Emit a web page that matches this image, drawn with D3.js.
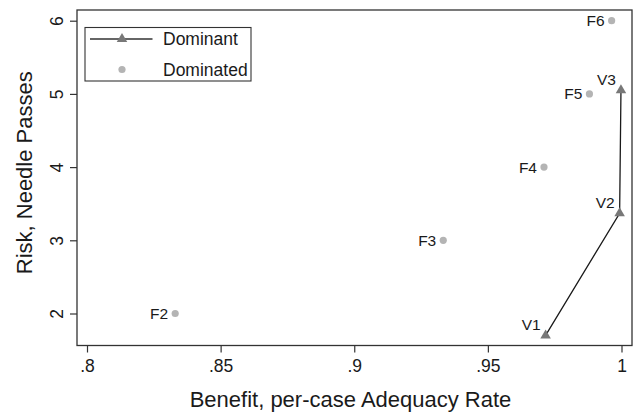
<!DOCTYPE html>
<html>
<head>
<meta charset="utf-8">
<script src="https://cdn.jsdelivr.net/npm/d3@7"></script>
<style>
  body { margin: 0; background: #fff; }
  text { font-family: "Liberation Sans", Arial, sans-serif; fill: #1a1a1a; }
</style>
</head>
<body>
<div id="chart"></div>
<script>
// data
var domNames = ["V1", "V2", "V3"]
var domBenefit = [0.9716, 0.9993, 0.9998]
var domRisk = [1.70, 3.37, 5.05]

var subNames = ["F2", "F3", "F4", "F5", "F6"]
var subBenefit = [0.833, 0.9333, 0.971, 0.988, 0.9963]
var subRisk = [2, 3, 4, 5, 6]

var xTicks = [0.8, 0.85, 0.9, 0.95, 1]
var xTickLabels = [".8", ".85", ".9", ".95", "1"]
var yTicks = [2, 3, 4, 5, 6]
var legendItems = ["Dominant", "Dominated"]

var width = 634, height = 412;
var frame = {left: 77, right: 632, top: 10, bottom: 345.5};

var x = d3.scaleLinear().domain([0.8, 1]).range([87, 621.5]);
var y = d3.scaleLinear().domain([2, 6]).range([313.5, 20.7]);

var svg = d3.select("#chart").append("svg")
  .attr("width", width)
  .attr("height", height);

// plot frame
svg.append("rect")
  .attr("x", frame.left).attr("y", frame.top)
  .attr("width", frame.right - frame.left)
  .attr("height", frame.bottom - frame.top)
  .attr("fill", "none")
  .attr("stroke", "#333")
  .attr("stroke-width", 1.3);

// axes
var xAxis = svg.append("g")
  .attr("transform", "translate(0," + frame.bottom + ")")
  .call(d3.axisBottom(x).tickValues(xTicks).tickSize(7).tickPadding(7)
    .tickFormat(function(d, i) { return xTickLabels[i]; }));
xAxis.select(".domain").remove();
xAxis.selectAll("line").attr("stroke", "#333").attr("stroke-width", 1.2);
xAxis.selectAll("text").style("font-size", "17.5px").attr("fill", "#1a1a1a")
  .style("font-family", "Liberation Sans, Arial, sans-serif");

var yAxis = svg.append("g")
  .attr("transform", "translate(" + frame.left + ",0)")
  .call(d3.axisLeft(y).tickValues(yTicks).tickSize(7).tickFormat(d3.format("d")));
yAxis.select(".domain").remove();
yAxis.selectAll("line").attr("stroke", "#333").attr("stroke-width", 1.2);
yAxis.selectAll(".tick text")
  .attr("x", null).attr("y", 0).attr("dy", "0.35em")
  .attr("text-anchor", "middle")
  .attr("transform", "translate(-20.5,0) rotate(-90)")
  .attr("fill", "#1a1a1a")
  .style("font-size", "17.5px")
  .style("font-family", "Liberation Sans, Arial, sans-serif");

// axis titles
svg.append("text")
  .attr("x", (frame.left + frame.right) / 2 - 4)
  .attr("y", 407)
  .attr("text-anchor", "middle")
  .style("font-size", "22px")
  .text("Benefit, per-case Adequacy Rate");

svg.append("text")
  .attr("transform", "translate(31.5," + ((frame.top + frame.bottom) / 2 - 5) + ") rotate(-90)")
  .attr("text-anchor", "middle")
  .style("font-size", "22px")
  .text("Risk, Needle Passes");

// dominated points
var sub = subNames.map(function(d, i) { return {name: d, b: subBenefit[i], r: subRisk[i]}; });
svg.selectAll(".sub").data(sub).enter().append("circle")
  .attr("class", "sub")
  .attr("cx", function(d) { return x(d.b); })
  .attr("cy", function(d) { return y(d.r); })
  .attr("r", 3.6)
  .attr("fill", "#b4b4b4");

svg.selectAll(".subLab").data(sub).enter().append("text")
  .attr("class", "subLab")
  .attr("x", function(d) { return x(d.b) - 7; })
  .attr("y", function(d) { return y(d.r); })
  .attr("dy", "0.35em")
  .attr("text-anchor", "end")
  .style("font-size", "15.5px")
  .text(function(d) { return d.name; });

// dominant frontier
var dom = domNames.map(function(d, i) { return {name: d, b: domBenefit[i], r: domRisk[i]}; });
svg.append("path")
  .datum(dom)
  .attr("fill", "none")
  .attr("stroke", "#1a1a1a")
  .attr("stroke-width", 1.3)
  .attr("d", d3.line().x(function(d) { return x(d.b); }).y(function(d) { return y(d.r); }));

var tri = d3.symbol().type(d3.symbolTriangle).size(48);
svg.selectAll(".dom").data(dom).enter().append("path")
  .attr("class", "dom")
  .attr("transform", function(d) { return "translate(" + x(d.b) + "," + y(d.r) + ")"; })
  .attr("d", tri)
  .attr("fill", "#787878");

svg.selectAll(".domLab").data(dom).enter().append("text")
  .attr("class", "domLab")
  .attr("x", function(d) { return x(d.b) - 5; })
  .attr("y", function(d) { return y(d.r) - 5; })
  .attr("text-anchor", "end")
  .style("font-size", "15.5px")
  .text(function(d) { return d.name; });

// legend
var leg = svg.append("g").attr("transform", "translate(85,27.5)");
leg.append("rect")
  .attr("width", 166).attr("height", 53.5)
  .attr("fill", "#fff").attr("stroke", "#333").attr("stroke-width", 1.1);

leg.append("line")
  .attr("x1", 5).attr("x2", 67.5).attr("y1", 11.5).attr("y2", 11.5)
  .attr("stroke", "#333").attr("stroke-width", 1.3);
leg.append("path")
  .attr("transform", "translate(37,11.5)")
  .attr("d", tri)
  .attr("fill", "#787878");
leg.append("circle")
  .attr("cx", 37).attr("cy", 42).attr("r", 3.6)
  .attr("fill", "#b4b4b4");

leg.selectAll(".legText").data(legendItems).enter().append("text")
  .attr("class", "legText")
  .attr("x", 78)
  .attr("y", function(d, i) { return 11.5 + i * 30.5; })
  .attr("dy", "0.35em")
  .style("font-size", "17.5px")
  .text(function(d) { return d; });
</script>
</body>
</html>
